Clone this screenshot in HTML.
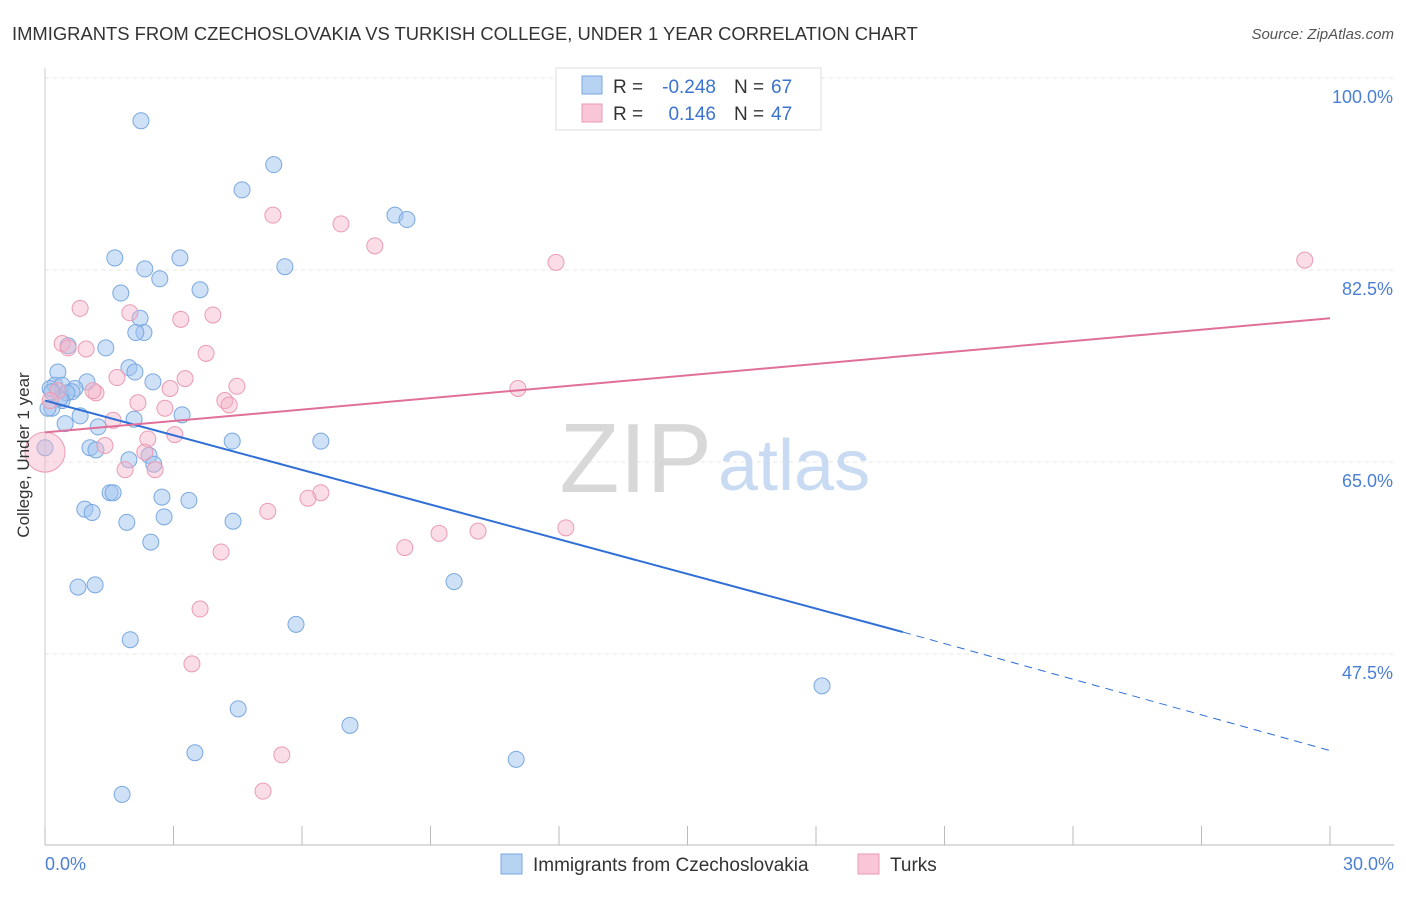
<!DOCTYPE html>
<html><head><meta charset="utf-8"><style>
body{margin:0;background:#fff;font-family:"Liberation Sans",sans-serif;}
svg text{font-family:"Liberation Sans",sans-serif;}
</style></head><body>
<svg id="chart" width="1406" height="892" xmlns="http://www.w3.org/2000/svg">
<text x="12" y="40" font-size="18.4" fill="#333">IMMIGRANTS FROM CZECHOSLOVAKIA VS TURKISH COLLEGE, UNDER 1 YEAR CORRELATION CHART</text>
<text x="1394" y="39" font-size="15" fill="#555" font-style="italic" text-anchor="end">Source: ZipAtlas.com</text>
<g id="grid"></g>
<text x="712" y="492" font-size="98" fill="#d8d8d8" font-family="Liberation Serif" text-anchor="end">ZIP</text>
<text x="718" y="490" font-size="72" fill="#c9dbf2">atlas</text>
<g id="pts"></g>
<g id="lines"></g>
<text x="29" y="455" font-size="17" fill="#333" text-anchor="middle" transform="rotate(-90 29 455)">College, Under 1 year</text>
<text x="45" y="870" font-size="18" fill="#4a7fd4">0.0%</text>
<text x="1394" y="870" font-size="18" fill="#4a7fd4" text-anchor="end">30.0%</text>
<g>
<rect x="556" y="68" width="265" height="62" fill="#fff" stroke="#ddd"/>
<rect x="582" y="76" width="20" height="18" fill="#b8d2f4" stroke="#7aa8e0"/>
<rect x="582" y="104" width="20" height="18" fill="#f8c6d6" stroke="#eb9bb5"/>
<text x="613" y="93" font-size="19" fill="#333">R =</text>
<text x="716" y="93" font-size="19" fill="#3b73d0" text-anchor="end">-0.248</text>
<text x="734" y="93" font-size="19" fill="#333">N =</text>
<text x="771" y="93" font-size="19" fill="#3b73d0">67</text>
<text x="613" y="120" font-size="19" fill="#333">R =</text>
<text x="716" y="120" font-size="19" fill="#3b73d0" text-anchor="end">0.146</text>
<text x="734" y="120" font-size="19" fill="#333">N =</text>
<text x="771" y="120" font-size="19" fill="#3b73d0">47</text>
</g>
<g>
<rect x="501" y="854" width="21" height="20" fill="#b8d2f4" stroke="#7aa8e0"/>
<text x="533" y="871" font-size="19" fill="#333">Immigrants from Czechoslovakia</text>
<rect x="858" y="854" width="21" height="20" fill="#f8c6d6" stroke="#eb9bb5"/>
<text x="890" y="871" font-size="19" fill="#333">Turks</text>
</g>
</svg>
<script>
const yTicks=[100,82.5,65,47.5];
const yTickLabels=["100.0%","82.5%","65.0%","47.5%"];
const xTicks=[0,3,6,9,12,15,18,21,24,27,30];
const blueX=[2.24,5.34,4.6,8.17,8.45,1.63,3.15,2.33,2.68,5.6,3.62,1.77,2.22,2.31,2.12,1.42,0.54,1.96,2.1,0.3,2.52,0.98,0.23,0.4,0.12,0.7,0.63,0.51,0.4,0.16,3.2,0.82,2.08,0.47,1.24,4.37,6.44,1.05,1.19,2.43,1.96,2.54,1.52,1.59,2.73,3.36,0.93,1.1,2.78,1.91,4.39,2.47,9.55,0.77,1.17,5.86,1.99,18.14,4.51,7.12,3.5,11.0,1.8,0.0,0.07,0.35,0.16];
const blueY=[96.1,92.1,89.8,87.5,87.1,83.6,83.6,82.6,81.7,82.8,80.7,80.4,78.1,76.8,76.8,75.4,75.6,73.6,73.2,73.2,72.3,72.3,72.0,72.0,71.7,71.7,71.4,71.3,70.6,69.9,69.3,69.2,68.9,68.5,68.2,66.9,66.9,66.3,66.1,65.6,65.2,64.8,62.2,62.2,61.8,61.5,60.7,60.4,60.0,59.5,59.6,57.7,54.1,53.6,53.8,50.2,48.8,44.6,42.5,41.0,38.5,37.9,34.7,66.3,69.9,70.8,71.4];
const pinkX=[12.3,5.32,6.91,7.7,11.93,29.41,0.82,1.98,3.17,3.92,0.4,0.54,0.96,3.76,1.68,3.27,2.92,4.48,11.04,1.19,4.2,4.3,2.17,2.8,1.59,3.03,2.4,1.4,2.33,2.57,1.87,6.44,6.14,5.2,9.2,12.16,10.11,8.4,4.11,3.62,3.43,5.53,5.09,0.0,0.3,1.12,0.12];
const pinkY=[99.8,87.5,86.7,84.7,83.2,83.4,79.0,78.6,78.0,78.4,75.8,75.4,75.3,74.9,72.7,72.6,71.7,71.9,71.7,71.3,70.6,70.2,70.4,69.9,68.8,67.5,67.1,66.5,65.9,64.3,64.3,62.2,61.7,60.5,58.5,59.0,58.7,57.2,56.8,51.6,46.6,38.3,35.0,65.9,71.5,71.5,70.6];
const blueFit=[70.6,49.5,38.7]; const blueFitX=[0,20.03,30];
const pinkFit=[67.7,78.1]; const pinkFitX=[0,30];
const NS="http://www.w3.org/2000/svg";
const X=v=>45+v/30*1285, Y=v=>78+(100-v)*192/17.5;
function mk(t,a,p){const e=document.createElementNS(NS,t);for(const k in a)e.setAttribute(k,a[k]);p.appendChild(e);return e;}
const g=document.getElementById('grid');
yTicks.forEach((t,i)=>{
 const l=mk('line',{x1:45,x2:1394,y1:Y(t),y2:Y(t),stroke:'#e4e4e4','stroke-dasharray':'4,4'},g);
 
 
 const tx=mk('text',{x:1393,y:Y(t)+25,'font-size':18,fill:'#4a7fd4','text-anchor':'end'},g);tx.textContent=yTickLabels[i];
 
 
});
const ax=mk('line',{x1:45,x2:1394,y1:845,y2:845,stroke:'#bbb'},g);


const ay=mk('line',{x1:45,x2:45,y1:68,y2:845,stroke:'#ccc'},g);


xTicks.forEach(t=>{const l=mk('line',{x1:X(t),x2:X(t),y1:826,y2:845,stroke:'#bbb'},g);
 
 });
const p=document.getElementById('pts');
blueX.forEach((x,i)=>{const c=mk('circle',{cx:X(x),cy:Y(blueY[i]),r:8,fill:'rgba(160,196,240,0.5)',stroke:'#7aa8e0','stroke-width':1},p);
 
 });
pinkX.forEach((x,i)=>{const c=mk('circle',{cx:X(x),cy:Y(pinkY[i]),r:i==43?20:8,fill:'rgba(245,180,200,0.45)',stroke:'#eb9bb5','stroke-width':1},p);
 
 });
const L=document.getElementById('lines');
const b1=mk('line',{x1:X(blueFitX[0]),y1:Y(blueFit[0]),x2:X(blueFitX[1]),y2:Y(blueFit[1]),stroke:'#2f6fd6','stroke-width':2},L);


const b2=mk('line',{x1:X(blueFitX[1]),y1:Y(blueFit[1]),x2:X(blueFitX[2]),y2:Y(blueFit[2]),stroke:'#2f6fd6','stroke-width':1,'stroke-dasharray':'8,6'},L);


const p1=mk('line',{x1:X(pinkFitX[0]),y1:Y(pinkFit[0]),x2:X(pinkFitX[1]),y2:Y(pinkFit[1]),stroke:'#e0709a','stroke-width':2},L);


</script>
</body></html>
